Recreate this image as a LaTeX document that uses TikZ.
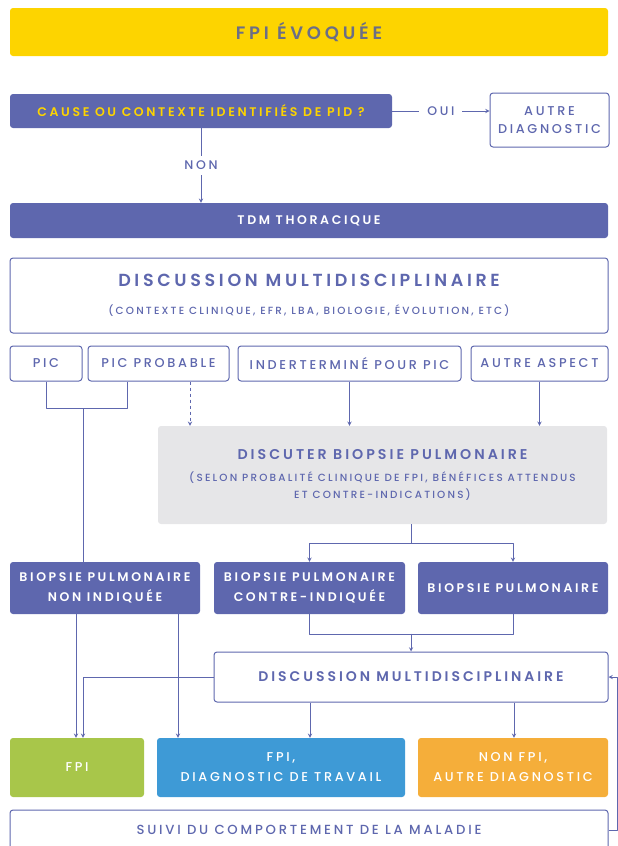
\documentclass[tikz,border=0pt]{standalone}
\usepackage{fontspec}
\setmainfont{Poppins}[UprightFont=* Medium, BoldFont=* SemiBold, LetterSpace=21]
\definecolor{mauve}{HTML}{5E67AE}
\definecolor{jaunefpi}{HTML}{FDD400}
\definecolor{grisfpi}{HTML}{6B6E86}
\definecolor{grisclair}{HTML}{E6E6E8}
\definecolor{vertfpi}{HTML}{A8C64A}
\definecolor{bleufpi}{HTML}{3E9AD6}
\definecolor{orangefpi}{HTML}{F5AE3A}
\newcommand\grandtitre{\fontsize{17.5}{20}\selectfont\bfseries}
\newcommand\soustitre{\fontsize{10.4}{12}\selectfont\mdseries}
\tikzset{
	boite/.style={rectangle, rounded corners=3pt, inner sep=0pt, align=center},
	pleine/.style={boite, fill=mauve, text=white, font=\fontsize{12.5}{20}\selectfont\bfseries},
	cadre/.style={boite, draw=mauve, line width=1pt, fill=white, text=mauve, font=\fontsize{12.8}{18}\selectfont},
	issue/.style={boite, text=white, font=\fontsize{12.8}{20}\selectfont, minimum height=59pt},
	lien/.style={draw=mauve, line width=0.9pt},
	etiquette/.style={fill=white, text=mauve, inner xsep=8pt, font=\fontsize{12.5}{14}\selectfont}
}
\begin{document}
\begin{tikzpicture}[x=1pt, y=-1pt, line join=round, >=stealth]
	\useasboundingbox (0,0) rectangle (618,846);
	%% les boites
	\node[boite, fill=jaunefpi, text=grisfpi, font=\fontsize{18}{20}\selectfont\bfseries,
		minimum width=598pt, minimum height=48pt] (evoquee) at (309,32) {FPI ÉVOQUÉE};
	\node[pleine, text=jaunefpi, minimum width=382pt, minimum height=34pt] (cause) at (201,111) {CAUSE OU CONTEXTE IDENTIFIÉS DE PID ?};
	\node[cadre, minimum width=119pt, minimum height=54pt] (autrediag) at (549.5,120) {AUTRE\\DIAGNOSTIC};
	\node[pleine, minimum width=598pt, minimum height=35pt] (tdm) at (309,220.5) {TDM THORACIQUE};
	\node[cadre, minimum width=598pt, minimum height=75pt] (dmun) at (309,295.5)
		{\grandtitre DISCUSSION MULTIDISCIPLINAIRE\\[10pt]
		 \soustitre (CONTEXTE CLINIQUE, EFR, LBA, BIOLOGIE, ÉVOLUTION, ETC)};
	\node[cadre, minimum width=72pt, minimum height=35pt] (pic) at (46,363.5) {PIC};
	\node[cadre, minimum width=141pt, minimum height=35pt] (picprob) at (158.5,363.5) {PIC PROBABLE};
	\node[cadre, minimum width=223pt, minimum height=35pt] (indet) at (349.5,363.5) {INDERTERMINÉ POUR PIC};
	\node[cadre, minimum width=137pt, minimum height=35pt] (autreasp) at (539.5,363.5) {AUTRE ASPECT};
	\node[boite, fill=grisclair, text=mauve, minimum width=449pt, minimum height=98pt] (discuter) at (382.5,475)
		{\fontsize{14.2}{17}\selectfont\bfseries DISCUTER BIOPSIE PULMONAIRE\\[10pt]
		 \soustitre (SELON PROBALITÉ CLINIQUE DE FPI, BÉNÉFICES ATTENDUS\\[5pt]
		 \soustitre ET CONTRE-INDICATIONS)};
	\node[pleine, minimum width=190pt, minimum height=52pt] (nonind) at (105,588) {BIOPSIE PULMONAIRE\\NON INDIQUÉE};
	\node[pleine, minimum width=191pt, minimum height=52pt] (contreind) at (309.5,588) {BIOPSIE PULMONAIRE\\CONTRE-INDIQUÉE};
	\node[pleine, minimum width=190pt, minimum height=52pt] (biopsie) at (513,588) {BIOPSIE PULMONAIRE};
	\node[cadre, minimum width=394pt, minimum height=50pt, font=\fontsize{14}{16}\selectfont\bfseries] (dmdeux) at (411,677) {DISCUSSION MULTIDISCIPLINAIRE};
	\node[issue, fill=vertfpi, minimum width=134pt] (fpi) at (77,767.5) {FPI};
	\node[issue, fill=bleufpi, minimum width=248pt] (travail) at (281,767.5) {FPI,\\DIAGNOSTIC DE TRAVAIL};
	\node[issue, fill=orangefpi, minimum width=190pt] (nonfpi) at (513,767.5) {NON FPI,\\AUTRE DIAGNOSTIC};
	\node[cadre, minimum width=598pt, minimum height=40pt, font=\fontsize{13.2}{15}\selectfont] (suivi) at (309,830) {SUIVI DU COMPORTEMENT DE LA MALADIE};
	%% les liens
	\draw[lien,->] (cause.east) -- (cause.east -| autrediag.west) node[etiquette, midway] {OUI};
	\draw[lien,->] (cause.south) -- (cause.south |- tdm.north) node[etiquette, inner xsep=2pt, inner ysep=5pt, midway] {NON};
	\draw[lien] (pic.south) -- ++(0,27) -| ([xshift=-31.5pt]picprob.south);
	\coordinate (crochet) at (83,408);
	\draw[lien] (crochet) -- (crochet |- nonind.north);
	\draw[lien,->,dashed] ([xshift=31.5pt]picprob.south) coordinate (pp) -- (pp |- discuter.north);
	\draw[lien,->] (indet.south) -- (indet.south |- discuter.north);
	\draw[lien,->] (autreasp.south) -- (autreasp.south |- discuter.north);
	\draw[lien] ([xshift=28.5pt]discuter.south) -- ++(0,19) coordinate (fourche);
	\draw[lien,->] (fourche) -| (contreind.north);
	\draw[lien,->] (fourche) -| (biopsie.north);
	\draw[lien] (contreind.south) -- ++(0,20) -| (biopsie.south);
	\draw[lien,->] ([yshift=18pt]dmdeux.north) -- (dmdeux.north);
	\draw[lien,->] ([xshift=-29pt]nonind.south) -- ([xshift=-1pt]fpi.north);
	\draw[lien,->] ([xshift=73pt]nonind.south) -- ([xshift=-103pt]travail.north);
	\draw[lien,->] (dmdeux.west) -| ([xshift=6pt]fpi.north);
	\draw[lien,->] ([xshift=-101pt]dmdeux.south) -- ([xshift=-101pt]dmdeux.south |- travail.north);
	\draw[lien,->] ([xshift=103pt]dmdeux.south) -- ([xshift=103pt]dmdeux.south |- nonfpi.north);
	\draw[lien,->] (suivi.east) -- ++(9,0) |- (dmdeux.east);
\end{tikzpicture}
\end{document}
